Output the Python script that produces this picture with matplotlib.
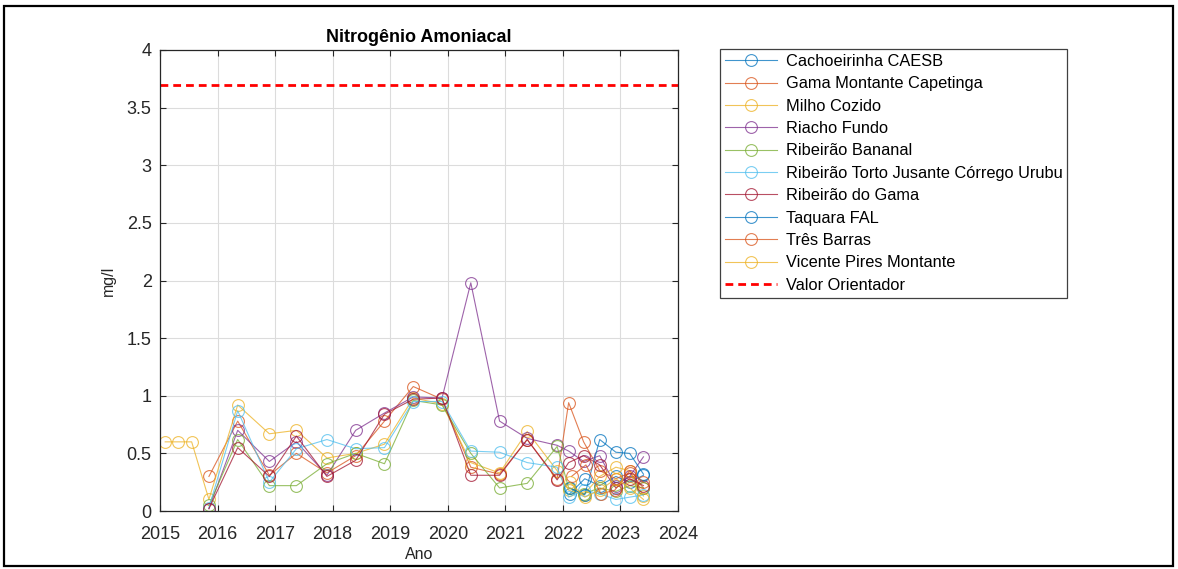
import matplotlib
matplotlib.use('Agg')
import matplotlib.pyplot as plt
from matplotlib.patches import Rectangle

plt.rcParams['font.family'] = ['Liberation Sans', 'DejaVu Sans']

# ---------------- data ----------------
chart_title = 'Nitrogênio Amoniacal'
x_label = 'Ano'
y_label = 'mg/l'
x_ticks = [2015, 2016, 2017, 2018, 2019, 2020, 2021, 2022, 2023, 2024]
y_ticks = [0, 0.5, 1, 1.5, 2, 2.5, 3, 3.5, 4]
guide_label = 'Valor Orientador'
guide_value = 3.7

station_names = ['Cachoeirinha CAESB', 'Gama Montante Capetinga', 'Milho Cozido',
                 'Riacho Fundo', 'Ribeirão Bananal',
                 'Ribeirão Torto Jusante Córrego Urubu', 'Ribeirão do Gama',
                 'Taquara FAL', 'Três Barras', 'Vicente Pires Montante']
station_colors = ['#0072BD', '#D95319', '#EDB120', '#7E2F8E', '#77AC30',
                  '#4DBEEE', '#A2142F', '#0072BD', '#D95319', '#EDB120']

common_t = [2015.85, 2016.35, 2016.90, 2017.37, 2017.90, 2018.40, 2018.90,
            2019.40, 2019.90, 2020.40, 2020.90, 2021.38, 2021.90,
            2022.10, 2022.36, 2022.64, 2022.92, 2023.16, 2023.40]
recent_t = [2022.12, 2022.38, 2022.64, 2022.92, 2023.16, 2023.40]

cachoeirinha_t = recent_t
cachoeirinha_v = [0.15, 0.28, 0.22, 0.30, 0.25, 0.31]

gama_montante_t = common_t
gama_montante_v = [0.30, 0.78, 0.31, 0.50, 0.33, 0.48, 0.78, 1.08, 0.97, 0.38,
                   0.32, 0.62, 0.28, 0.94, 0.60, 0.35, 0.28, 0.33, 0.20]

milho_cozido_t = [2015.09, 2015.32, 2015.55] + common_t
milho_cozido_v = [0.60, 0.60, 0.60, 0.10, 0.92, 0.67, 0.70, 0.46, 0.50, 0.58,
                  0.98, 0.93, 0.42, 0.33, 0.69, 0.35, 0.18, 0.14, 0.30, 0.38,
                  0.35, 0.13]

riacho_fundo_t = common_t
riacho_fundo_v = [0.02, 0.70, 0.43, 0.60, 0.31, 0.70, 0.85, 0.99, 0.98, 1.98,
                  0.78, 0.63, 0.57, 0.52, 0.43, 0.48, 0.22, 0.30, 0.47]

bananal_t = common_t
bananal_v = [0.05, 0.62, 0.22, 0.22, 0.41, 0.50, 0.41, 0.96, 0.92, 0.50,
             0.20, 0.24, 0.56, 0.20, 0.15, 0.20, 0.17, 0.22, 0.20]

torto_t = common_t
torto_v = [0.03, 0.87, 0.25, 0.54, 0.62, 0.54, 0.55, 0.95, 0.95, 0.52,
           0.51, 0.42, 0.38, 0.12, 0.18, 0.15, 0.10, 0.12, 0.14]

ribeirao_gama_t = common_t
ribeirao_gama_v = [0.02, 0.55, 0.30, 0.65, 0.30, 0.44, 0.84, 0.97, 0.98, 0.31,
                   0.31, 0.62, 0.27, 0.42, 0.48, 0.40, 0.20, 0.28, 0.22]

taquara_t = recent_t
taquara_v = [0.20, 0.14, 0.62, 0.51, 0.50, 0.32]

tres_barras_t = [2022.15, 2022.40, 2022.66, 2022.90, 2023.16, 2023.40]
tres_barras_v = [0.30, 0.40, 0.15, 0.18, 0.35, 0.25]

vicente_pires_t = recent_t
vicente_pires_v = [0.25, 0.12, 0.18, 0.28, 0.20, 0.10]

series_t = [cachoeirinha_t, gama_montante_t, milho_cozido_t, riacho_fundo_t,
            bananal_t, torto_t, ribeirao_gama_t, taquara_t, tres_barras_t,
            vicente_pires_t]
series_v = [cachoeirinha_v, gama_montante_v, milho_cozido_v, riacho_fundo_v,
            bananal_v, torto_v, ribeirao_gama_v, taquara_v, tres_barras_v,
            vicente_pires_v]

# ---------------- figure ----------------
W, H = 1178, 569
fig = plt.figure(figsize=(W / 100, H / 100), dpi=100)
fig.patch.set_facecolor('white')

ax = fig.add_axes([160 / W, 1 - 511 / H, 518 / W, 461 / H])

for name, col, t, v in zip(station_names, station_colors, series_t, series_v):
    ax.plot(t, v, color=col, lw=0.8, alpha=0.75, marker='o', ms=8.5,
            mfc='none', mec=col, mew=0.8, label=name)

ax.axhline(guide_value, color='#FF0000', lw=2, dashes=(2.8, 1.8),
           label=guide_label)

ax.set_xlim(x_ticks[0], x_ticks[-1])
ax.set_ylim(y_ticks[0], y_ticks[-1])
ax.set_xticks(x_ticks)
ax.set_yticks(y_ticks)
ax.set_yticklabels([f'{y:g}' for y in y_ticks])
ax.grid(True, color='#dcdcdc', lw=0.8)
ax.set_axisbelow(True)
ax.tick_params(direction='in', length=4, width=0.8, colors='#262626',
               labelsize=13, top=True, right=True)
ax.tick_params(axis='x', pad=11)
ax.tick_params(axis='y', pad=6)
for s in ax.spines.values():
    s.set_color('#262626')
    s.set_linewidth(0.9)

ax.set_title(chart_title, fontsize=13, fontweight='bold', color='black', pad=6)
ax.set_xlabel(x_label, fontsize=11.5, color='#262626', labelpad=3)
ax.set_ylabel(y_label, fontsize=11.5, color='#262626', labelpad=8)

leg = ax.legend(loc='upper left', bbox_to_anchor=(720 / W, 1 - 49 / H),
                bbox_transform=fig.transFigure, borderaxespad=0,
                fontsize=11.8, frameon=True, fancybox=False, framealpha=1,
                edgecolor='#404040', handlelength=3.2, handletextpad=0.5,
                labelspacing=0.45, borderpad=0.3, numpoints=1)
leg.get_frame().set_linewidth(0.9)

# outer border of the picture
fig.patches.append(Rectangle((4 / W, 3 / H), 1 - 9 / W, 1 - 9 / H,
                             transform=fig.transFigure, fill=False,
                             edgecolor='black', lw=1.6))

fig.savefig('out.png', dpi=100)
